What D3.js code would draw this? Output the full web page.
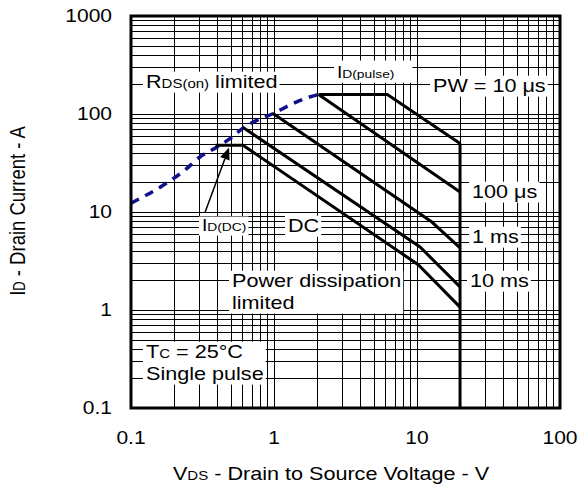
<!DOCTYPE html>
<html>
<head>
<meta charset="utf-8">
<script src="https://cdn.jsdelivr.net/npm/d3@7"></script>
<style>
  body { margin: 0; background: #fff; }
  svg text { font-family: "Liberation Sans", Arial, sans-serif; fill: #000; }
</style>
</head>
<body>
<svg id="chart" width="578" height="489"></svg>
<script>
// --- data (V, A) ---
var xTicks = [0.1, 1, 10, 100];
var yTicks = [0.1, 1, 10, 100, 1000];
var xTickLabels = ["0.1", "1", "10", "100"];
var yTickLabels = ["0.1", "1", "10", "100", "1000"];

var rdsOn = [[0.1, 12.3], [0.18, 20], [0.24, 27], [0.3, 36], [0.4, 46], [0.5, 57],
             [0.6, 71], [0.77, 87], [1, 102], [1.3, 124], [1.7, 146], [2.05, 158]];
var pw10us  = [[2.05, 158], [6.2, 158], [20, 50]];
var pw100us = [[2.05, 158], [20, 16]];
var pw1ms   = [[0.98, 102], [12.7, 7.9], [20, 4.3]];
var pw10ms  = [[0.607, 73], [10.5, 4.4], [20, 1.72]];
var dcLine  = [[0.39, 48], [0.607, 48], [10.2, 2.9], [20, 1.07]];
var vdsLimit = [[20, 50], [20, 0.1]];
var idArrow = [[0.33, 10], [0.485, 45.5]];

var solidCurves = [pw10us, pw100us, pw1ms, pw10ms, dcLine, vdsLimit];

// --- layout ---
var L = 131, R = 560, T = 16, B = 408;
var SX = 1.2;   // the picture's text is stretched sideways
var svg = d3.select("#chart");

var x = d3.scaleLog().domain([0.1, 100]).range([L, R]);
var y = d3.scaleLog().domain([0.1, 1000]).range([B, T]);

// minor grid values 1..9 per decade
var gx = [], gy = [];
[0.1, 1, 10].forEach(function(d){ for (var k = 1; k <= 9; k++) gx.push(d * k); });
[0.1, 1, 10, 100].forEach(function(d){ for (var k = 1; k <= 9; k++) gy.push(d * k); });

var grid = svg.append("g").attr("stroke", "#000").attr("stroke-width", 1);
grid.selectAll(".gx").data(gx).enter().append("line")
    .attr("x1", function(d){ return Math.round(x(d)) + 0.5; })
    .attr("x2", function(d){ return Math.round(x(d)) + 0.5; })
    .attr("y1", T).attr("y2", B);
grid.selectAll(".gy").data(gy).enter().append("line")
    .attr("y1", function(d){ return Math.round(y(d)) + 0.5; })
    .attr("y2", function(d){ return Math.round(y(d)) + 0.5; })
    .attr("x1", L).attr("x2", R);

// tick labels
function stretchedText(g, px, py, size, anchor){
    return g.append("text")
        .attr("transform", "translate(" + px + "," + py + ") scale(" + SX + ",1)")
        .attr("text-anchor", anchor || "start")
        .style("font-size", size + "px");
}
xTicks.forEach(function(d, i){
    stretchedText(svg, x(d), 444, 17.5, "middle").text(xTickLabels[i]);
});
yTicks.forEach(function(d, i){
    stretchedText(svg, 112, y(d) + 6, 17.5, "end").text(yTickLabels[i]);
});

// axis titles
var xt = stretchedText(svg, 331, 480, 18, "middle");
xt.append("tspan").text("V");
xt.append("tspan").style("font-size", "12.5px").text("DS");
xt.append("tspan").text(" - Drain to Source Voltage - V");

var yt = svg.append("text")
    .attr("transform", "translate(25,211) scale(" + SX + ",1) rotate(-90)")
    .attr("text-anchor", "middle").style("font-size", "18.5px");
yt.append("tspan").text("I");
yt.append("tspan").style("font-size", "13px").text("D");
yt.append("tspan").text(" - Drain Current - A");

// curves
var line = d3.line().x(function(d){ return x(d[0]); }).y(function(d){ return y(d[1]); });
var dashLine = d3.line().curve(d3.curveMonotoneX)
    .x(function(d){ return x(d[0]); }).y(function(d){ return y(d[1]); });

svg.append("path").datum(rdsOn).attr("d", dashLine)
    .attr("fill", "none").attr("stroke", "#10108a").attr("stroke-width", 3.5)
    .attr("stroke-dasharray", "9,7");

svg.selectAll(".soa").data(solidCurves).enter().append("path")
    .attr("d", line).attr("fill", "none").attr("stroke", "#000")
    .attr("stroke-width", 3).attr("stroke-linejoin", "miter");

// arrow to ID(DC)
var a0 = [x(idArrow[0][0]), y(idArrow[0][1])], a1 = [x(idArrow[1][0]), y(idArrow[1][1])];
var ang = Math.atan2(a1[1] - a0[1], a1[0] - a0[0]);
var hl = 12, hw = 5;
var bx = a1[0] - hl * Math.cos(ang), by = a1[1] - hl * Math.sin(ang);
svg.append("line").attr("x1", a0[0]).attr("y1", a0[1]).attr("x2", bx).attr("y2", by)
    .attr("stroke", "#000").attr("stroke-width", 1.5);
svg.append("path")
    .attr("d", "M" + a1[0] + "," + a1[1] +
               "L" + (bx + hw * Math.sin(ang)) + "," + (by - hw * Math.cos(ang)) +
               "L" + (bx - hw * Math.sin(ang)) + "," + (by + hw * Math.cos(ang)) + "Z")
    .attr("fill", "#000");

// frame
svg.append("rect").attr("x", L).attr("y", T).attr("width", R - L).attr("height", B - T)
    .attr("fill", "none").attr("stroke", "#000").attr("stroke-width", 3);

// annotations: each is a list of lines, each line a list of [text, size]
var notes = [
    {x: 146, y: 88,  lines: [[["R", 18], ["DS(on)", 12.5], [" limited", 18]]]},
    {x: 337, y: 78,  padR: 18, padT: 3, lines: [[["I", 16], ["D(pulse)", 11.5]]]},
    {x: 433, y: 92,  lines: [[["PW = 10 \u03bcs", 18]]]},
    {x: 472, y: 198, lines: [[["100 \u03bcs", 18]]]},
    {x: 472, y: 243, lines: [[["1 ms", 18]]]},
    {x: 470, y: 287, lines: [[["10 ms", 18]]]},
    {x: 202, y: 231, lines: [[["I", 16], ["D(DC)", 11.5]]]},
    {x: 288, y: 232, lines: [[["DC", 18]]]},
    {x: 232, y: 287, lines: [[["Power dissipation", 18]], [["limited", 18]]]},
    {x: 146, y: 358, lines: [[["T", 18], ["C", 12.5], [" = 25\u00b0C", 18]], [["Single pulse", 18]]]}
];

notes.forEach(function(n){
    var g = svg.append("g");
    n.lines.forEach(function(parts, i){
        var t = stretchedText(g, n.x, n.y + i * 22, 18, "start");
        parts.forEach(function(p){
            t.append("tspan").style("font-size", p[1] + "px").text(p[0]);
        });
    });
    var bb = g.node().getBBox();
    var padR = n.padR || 2, padT = n.padT || 0;
    g.insert("rect", "text")
        .attr("x", bb.x - 3).attr("y", bb.y - padT)
        .attr("width", bb.width + 3 + padR).attr("height", bb.height + 1 + padT)
        .attr("fill", "#fff");
});
</script>
</body>
</html>
